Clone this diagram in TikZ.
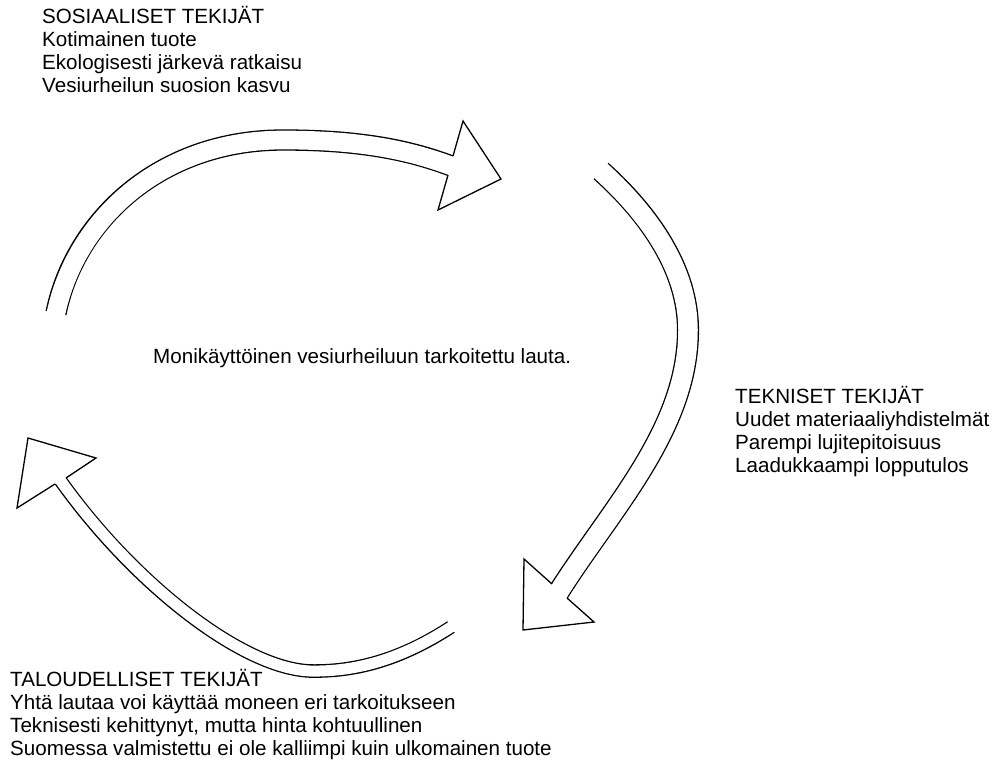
\documentclass[tikz,border=0pt]{standalone}
\usepackage{fontspec}
\setmainfont{Liberation Sans}
\newcommand\drawband[2]{%
  \draw[line width={#1+2.6pt}] #2;
  \draw[white, line width=#1, shorten <=-2pt, shorten >=-2pt] #2;}
\begin{document}
\begin{tikzpicture}[x=1pt,y=-1pt,
  headline/.style={line width=1.3pt, line join=miter},
  lbl/.style={anchor=base west, inner sep=0pt, align=left, font=\fontsize{20.6}{23}\selectfont}]
\useasboundingbox (0,0) rectangle (995,761);

% top arrow (social -> technical)
\drawband{18.7pt}{(56,313) .. controls (75,220) and (160,140) .. (283,140)
  .. controls (360,140) and (410,150) .. (454,167)}
\fill[white] (453,156) -- (463,121) -- (501,179) -- (438,210) -- (448,175) -- cycle;
\draw[headline] (453,156) -- (463,121) -- (501,179) -- (438,210) -- (448,175);

% right arrow (technical -> economic)
\drawband{19.5pt}{(601,171) .. controls (650,215) and (688,270) .. (688,330)
  .. controls (688,430) and (610,510) .. (558,593)}
\fill[white] (552,584) -- (524,559) -- (523,630) -- (594,622) -- (567,598) -- cycle;
\draw[headline] (552,584) -- (524,559) -- (523,630) -- (594,622) -- (567,598);

% bottom-left arrow (economic -> social)
\drawband{11pt}{(451,627) .. controls (405,657) and (360,672) .. (310,671)
  .. controls (240,668) and (130,580) .. (58,477)}
\fill[white] (66,478) -- (96,458) -- (28,438) -- (17,508) -- (55,484) -- cycle;
\draw[headline] (66,478) -- (96,458) -- (28,438) -- (17,508) -- (55,484);

\node[lbl] (soc) at (42,92) {SOSIAALISET TEKIJÄT\\Kotimainen tuote\\Ekologisesti järkevä ratkaisu\\Vesiurheilun suosion kasvu};
\node[lbl] (tek) at (735,472) {TEKNISET TEKIJÄT\\Uudet materiaaliyhdistelmät\\Parempi lujitepitoisuus\\Laadukkaampi lopputulos};
\node[lbl] (tal) at (10,755) {TALOUDELLISET TEKIJÄT\\Yhtä lautaa voi käyttää moneen eri tarkoitukseen\\Teknisesti kehittynyt, mutta hinta kohtuullinen\\Suomessa valmistettu ei ole kalliimpi kuin ulkomainen tuote};
\node[lbl] (mid) at (153,363.5) {Monikäyttöinen vesiurheiluun tarkoitettu lauta.};
\end{tikzpicture}
\end{document}
